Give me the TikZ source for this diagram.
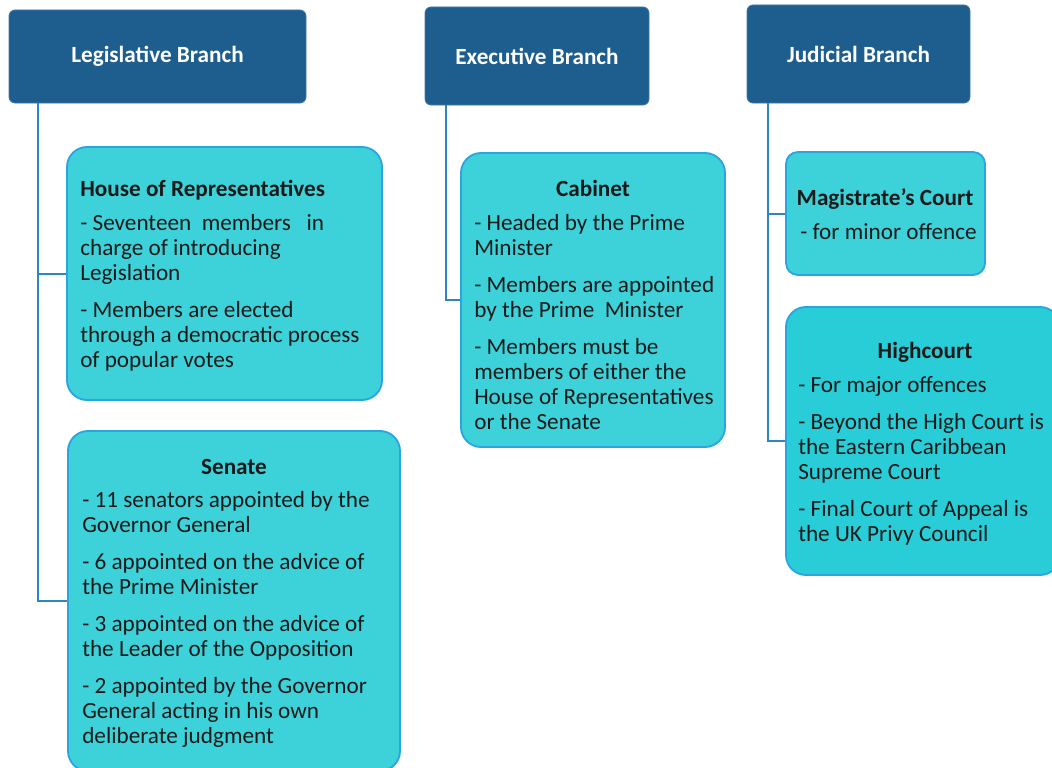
\documentclass[tikz,border=0pt]{standalone}
\usepackage{fontspec}
\setmainfont{Carlito}
\definecolor{hdr}{HTML}{1E5E8E}
\definecolor{hdrline}{HTML}{3F78A8}
\definecolor{boxfill}{HTML}{3DD2DA}
\definecolor{boxfilltwo}{HTML}{28CDD8}
\definecolor{boxline}{HTML}{2AA5E0}
\definecolor{conncol}{HTML}{2E86C1}
\definecolor{txt}{HTML}{1A1A1A}
\tikzset{
  header/.style={fill=hdr, draw=hdrline, line width=0.6pt, rounded corners=4.5pt, inner sep=0pt,
    text=white, font=\fontsize{17.4}{20}\selectfont\bfseries},
  infobox/.style={fill=boxfill, draw=boxline, line width=1.4pt, rounded corners=15pt, inner sep=0pt},
  conn/.style={draw=conncol, line width=1.5pt},
  ttl/.style={anchor=base, inner sep=0pt, text=txt, font=\fontsize{17.4}{18.75}\selectfont\bfseries},
  ttlw/.style={anchor=base west, inner sep=0pt, text=txt, font=\fontsize{17.4}{18.75}\selectfont\bfseries},
  items/.style={anchor=north west, inner sep=0pt, align=left, text=txt, font=\fontsize{17.4}{18.75}\selectfont}
}
\begin{document}
\begin{tikzpicture}[x=0.75pt,y=-0.75pt]
\useasboundingbox (0,0) rectangle (1052,767);

% headers
\node[header, minimum width=222.75pt, minimum height=69.75pt] (leg) at (157.5,56.5) {Legislative Branch};
\node[header, minimum width=168pt, minimum height=73.5pt] (exe) at (537,56) {Executive Branch};
\node[header, minimum width=167.25pt, minimum height=73.5pt] (jud) at (858.5,54) {Judicial Branch};

% boxes
\node[infobox, minimum width=236.25pt, minimum height=189.75pt] (hor) at (224.5,273.5) {};
\node[infobox, minimum width=249pt, minimum height=255pt] (sen) at (234,601) {};
\node[infobox, minimum width=198pt, minimum height=220.5pt] (cab) at (593,300) {};
\node[infobox, rounded corners=9pt, minimum width=149.25pt, minimum height=92.25pt] (mag) at (885.5,213.5) {};
\node[infobox, fill=boxfilltwo, minimum width=205.5pt, minimum height=201pt] (hig) at (923,441) {};

% connectors
\draw[conn] ([xshift=21.75pt]leg.south west) |- (hor.west);
\draw[conn] ([xshift=21.75pt]leg.south west) |- (sen.west);
\draw[conn] ([xshift=15.75pt]exe.south west) |- (cab.west);
\draw[conn] ([xshift=15.75pt]jud.south west) |- (mag.west);
\draw[conn] ([xshift=15.75pt]jud.south west) |- (hig.west);

% texts
\node[ttlw] (hort) at (80,196) {House of Representatives};
\node[items] (hori) at (80,212.5) {\strut- Seventeen\ \ members\ \ \ in\\charge of introducing\\Legislation\\[9pt]- Members are elected\\through a democratic process\\of popular votes};

\node[ttl] (sent) at (234,474) {Senate};
\node[items] (seni) at (82,489.5) {\strut- 11 senators appointed by the\\Governor General\\[9pt]- 6 appointed on the advice of\\the Prime Minister\\[9pt]- 3 appointed on the advice of\\the Leader of the Opposition\\[9pt]- 2 appointed by the Governor\\General acting in his own\\deliberate judgment};

\node[ttl] (cabt) at (593,196) {Cabinet};
\node[items] (cabi) at (474,212.5) {\strut- Headed by the Prime\\Minister\\[9pt]- Members are appointed\\by the Prime\ \ Minister\\[9pt]- Members must be\\members of either the\\House of Representatives\\or the Senate};

\node[ttl] (magt) at (885,205) {Magistrate's Court};
\node[items] (magi) at (800,221.5) {\strut- for minor offence};

\node[ttl] (higt) at (925,358) {Highcourt};
\node[items] (higi) at (798,374.5) {\strut- For major offences\\[9pt]- Beyond the High Court is\\the Eastern Caribbean\\Supreme Court\\[9pt]- Final Court of Appeal is\\the UK Privy Council};
\end{tikzpicture}
\end{document}
